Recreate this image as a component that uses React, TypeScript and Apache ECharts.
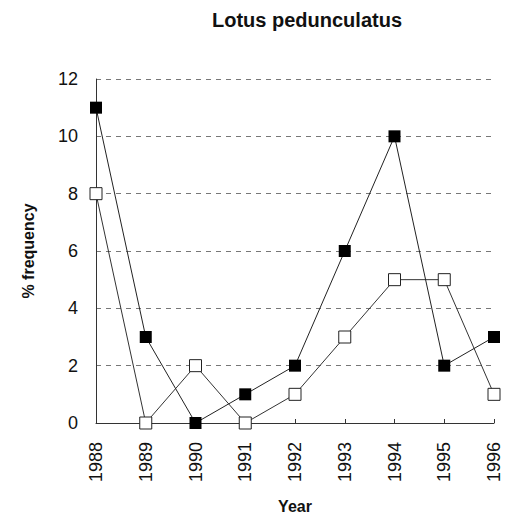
import React, { useEffect, useRef } from "react";
import * as echarts from "echarts";

const years = ["1988", "1989", "1990", "1991", "1992", "1993", "1994", "1995", "1996"];
const filledSeries = [11, 3, 0, 1, 2, 6, 10, 2, 3];
const openSeries = [8, 0, 2, 0, 1, 3, 5, 5, 1];
const yTicks = { min: 0, max: 12, interval: 2 };

export default function App() {
  const ref = useRef<HTMLDivElement>(null);
  useEffect(() => {
    if (!ref.current) return;
    const chart = echarts.init(ref.current, null, { renderer: "svg" });
    const font = "Liberation Sans, Arial, sans-serif";
    chart.setOption({
      animation: false,
      backgroundColor: "#fff",
      textStyle: { fontFamily: font },
      title: {
        text: "Lotus pedunculatus",
        left: 302,
        top: 5,
        textAlign: "center",
        textStyle: { fontFamily: font, fontSize: 20, fontWeight: "bold", color: "#111" },
      },
      grid: { left: 96, right: 11, top: 79, bottom: 92, containLabel: false, outerBoundsMode: "none" },
      xAxis: {
        type: "category",
        data: years,
        boundaryGap: false,
        name: "Year",
        nameLocation: "middle",
        nameGap: 75,
        nameTextStyle: { fontFamily: font, fontSize: 16, fontWeight: "bold", color: "#111" },
        axisLine: { lineStyle: { color: "#333", width: 1 } },
        axisTick: { show: true, inside: true, length: 4, lineStyle: { color: "#333" } },
        axisLabel: { rotate: 90, fontSize: 18, color: "#111", margin: 19, fontFamily: font },
        splitLine: { show: false },
      },
      yAxis: {
        type: "value",
        min: yTicks.min,
        max: yTicks.max,
        interval: yTicks.interval,
        name: "% frequency",
        nameLocation: "middle",
        nameGap: 60,
        nameRotate: 90,
        nameTextStyle: { fontFamily: font, fontSize: 16, fontWeight: "bold", color: "#111" },
        axisLine: { show: true, lineStyle: { color: "#333", width: 1 } },
        axisTick: { show: false },
        axisLabel: { fontSize: 18, color: "#111", margin: 18, fontFamily: font },
        splitLine: { show: true, lineStyle: { color: "#777", type: [5, 5], width: 1 } },
      },
      series: [
        {
          type: "line",
          data: openSeries,
          symbol: "rect",
          symbolSize: 12,
          itemStyle: { color: "#fff", borderColor: "#222", borderWidth: 1 },
          lineStyle: { color: "#333", width: 1 },
          z: 2,
        },
        {
          type: "line",
          data: filledSeries,
          symbol: "rect",
          symbolSize: 12,
          itemStyle: { color: "#000", borderColor: "#000", borderWidth: 0 },
          lineStyle: { color: "#222", width: 1 },
          z: 3,
        },
      ],
    });
    return () => chart.dispose();
  }, []);
  return <div ref={ref} style={{ width: 505, height: 515, position: "absolute", left: 0, top: 0 }} />;
}
